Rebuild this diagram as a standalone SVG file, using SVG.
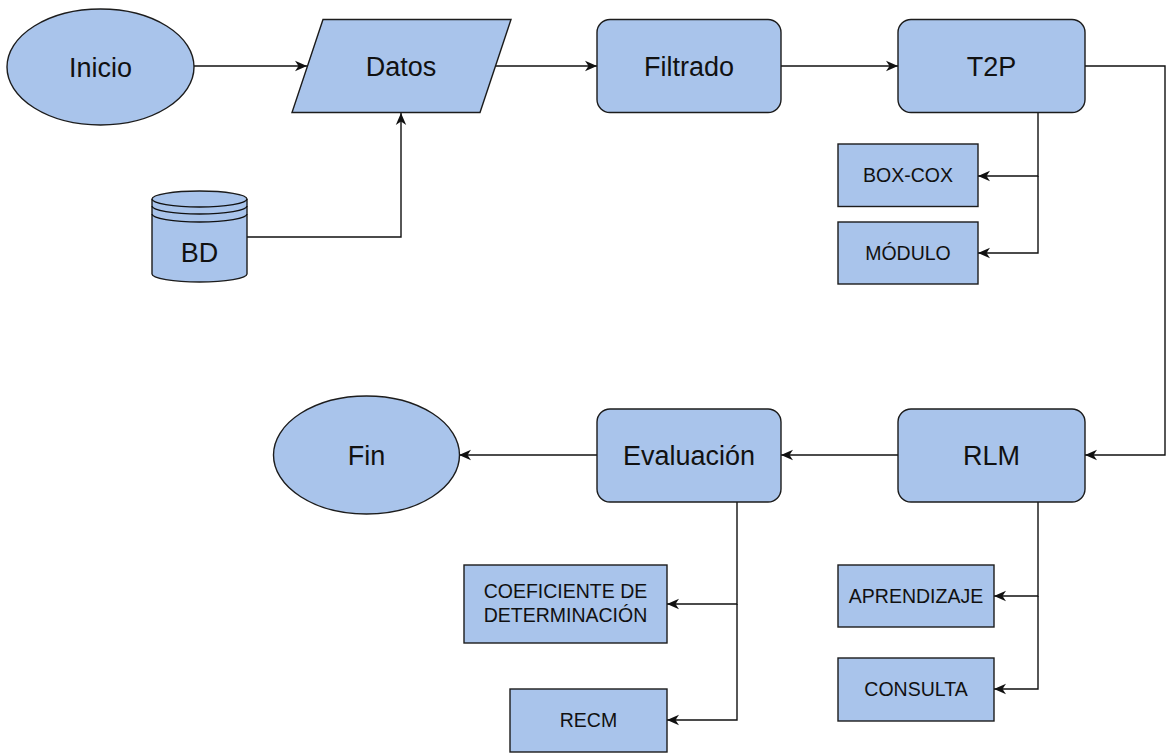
<svg xmlns="http://www.w3.org/2000/svg" width="1170" height="753" viewBox="0 0 1170 753">
  <defs>
    <style>
      .shape { fill: #a9c4eb; stroke: #1c1c1c; stroke-width: 1.4; }
      .edge { fill: none; stroke: #111; stroke-width: 1.4; }
      .big { font-family: "Liberation Sans", Arial, sans-serif; font-size: 27px; fill: #111; text-anchor: middle; }
      .small { font-family: "Liberation Sans", Arial, sans-serif; font-size: 19.5px; fill: #111; text-anchor: middle; }
    </style>
    <marker id="arrow" markerWidth="14" markerHeight="12" refX="12" refY="6" orient="auto" markerUnits="userSpaceOnUse">
      <path d="M0,0.8 L12,6 L0,11.2 L3.5,6 Z" fill="#111"/>
    </marker>
  </defs>
  <rect width="1170" height="753" fill="#ffffff"/>

  <!-- connectors -->
  <g id="connectors">
    <path class="edge" d="M194,66 L307,66" marker-end="url(#arrow)"/>
    <path class="edge" d="M495,66 L597,66" marker-end="url(#arrow)"/>
    <path class="edge" d="M781,66 L898,66" marker-end="url(#arrow)"/>
    <path class="edge" d="M246,237 L401,237 L401,113" marker-end="url(#arrow)"/>
    <path class="edge" d="M1085,66 L1165,66 L1165,455 L1085,455" marker-end="url(#arrow)"/>
    <path class="edge" d="M1038,113 L1038,176 L978,176" marker-end="url(#arrow)"/>
    <path class="edge" d="M1038,176 L1038,253 L978,253" marker-end="url(#arrow)"/>
    <path class="edge" d="M898,455 L781,455" marker-end="url(#arrow)"/>
    <path class="edge" d="M597,455 L459,455" marker-end="url(#arrow)"/>
    <path class="edge" d="M1038,502 L1038,596 L994,596" marker-end="url(#arrow)"/>
    <path class="edge" d="M1038,596 L1038,689 L994,689" marker-end="url(#arrow)"/>
    <path class="edge" d="M737,502 L737,604 L667,604" marker-end="url(#arrow)"/>
    <path class="edge" d="M737,604 L737,720 L667,720" marker-end="url(#arrow)"/>
  </g>

  <!-- start -->
  <g id="inicio">
    <ellipse class="shape" cx="100.5" cy="67" rx="93.5" ry="58"/>
    <text class="big" x="100.5" y="76.5">Inicio</text>
  </g>

  <!-- input data -->
  <g id="datos">
    <polygon class="shape" points="323,19.5 511,19.5 480,112.5 292,112.5"/>
    <text class="big" x="401" y="75.5">Datos</text>
  </g>

  <!-- database -->
  <g id="bd">
    <path class="shape" d="M152,199 A47.5,8 0 0 1 247,199 L247,274 A47.5,8 0 0 1 152,274 Z"/>
    <path class="edge" d="M152,199 A47.5,8 0 0 0 247,199"/>
    <path class="edge" d="M152,206 A47.5,8 0 0 0 247,206"/>
    <path class="edge" d="M152,214 A47.5,8 0 0 0 247,214"/>
    <text class="big" x="199.5" y="262">BD</text>
  </g>

  <g id="filtrado">
    <rect class="shape" x="597" y="19.5" width="184" height="93" rx="13"/>
    <text class="big" x="689" y="75.5">Filtrado</text>
  </g>

  <g id="t2p">
    <rect class="shape" x="898" y="19.5" width="187" height="93" rx="13"/>
    <text class="big" x="991.5" y="75.5">T2P</text>
  </g>

  <g id="boxcox">
    <rect class="shape" x="838" y="144" width="140" height="62.5"/>
    <text class="small" x="908" y="182">BOX-COX</text>
  </g>

  <g id="modulo">
    <rect class="shape" x="838" y="222" width="140" height="62"/>
    <text class="small" x="908" y="260">MÓDULO</text>
  </g>

  <g id="rlm">
    <rect class="shape" x="898" y="409" width="187" height="93" rx="13"/>
    <text class="big" x="991.5" y="464.5">RLM</text>
  </g>

  <g id="evaluacion">
    <rect class="shape" x="597" y="409" width="184" height="93" rx="13"/>
    <text class="big" x="689" y="464.5">Evaluación</text>
  </g>

  <!-- end -->
  <g id="fin">
    <ellipse class="shape" cx="366.5" cy="455" rx="93" ry="59"/>
    <text class="big" x="366.5" y="464.5">Fin</text>
  </g>

  <g id="aprendizaje">
    <rect class="shape" x="838" y="565" width="156" height="62"/>
    <text class="small" x="916" y="603">APRENDIZAJE</text>
  </g>

  <g id="consulta">
    <rect class="shape" x="838" y="658" width="156" height="63"/>
    <text class="small" x="916" y="696">CONSULTA</text>
  </g>

  <g id="coeficiente">
    <rect class="shape" x="464" y="565" width="203" height="78"/>
    <text class="small" x="565.5" y="598">COEFICIENTE DE</text>
    <text class="small" x="565.5" y="622">DETERMINACIÓN</text>
  </g>

  <g id="recm">
    <rect class="shape" x="510" y="689" width="157" height="63"/>
    <text class="small" x="588.5" y="727">RECM</text>
  </g>
</svg>
